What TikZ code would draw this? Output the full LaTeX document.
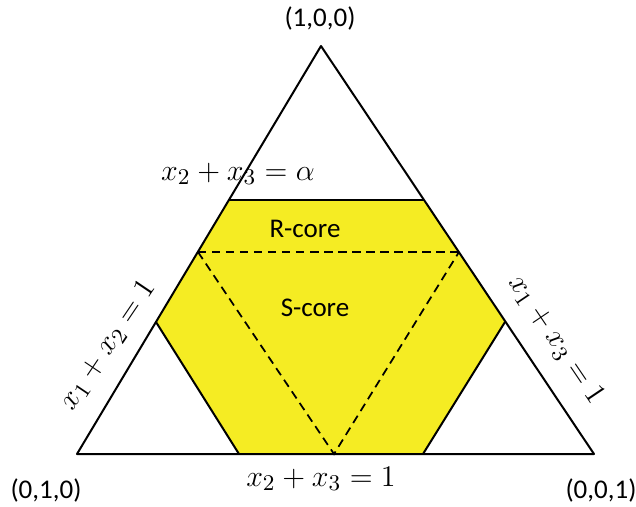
\documentclass[tikz,border=0pt]{standalone}
\usepackage{fontspec}
\setmainfont{Carlito}
\usepackage{amsmath}
\usepackage{xcolor}
\definecolor{corecolor}{RGB}{245,236,35}

\begin{document}
\begin{tikzpicture}[
    x=0.4pt, y=-0.4pt,
    edge/.style={line width=0.8pt, line join=round},
    split/.style={dashed, dash pattern=on 3.4pt off 2.2pt, line width=0.7pt},
    vertex/.style={font=\fontsize{10.8}{13}\selectfont, inner sep=0pt},
    region/.style={font=\fontsize{10.8}{13}\selectfont, inner sep=0pt},
    plane/.style={font=\fontsize{12.5}{15}\selectfont, inner sep=0pt}
]
\useasboundingbox (0,0) rectangle (636,507);

% corners of the simplex
\coordinate (top) at (321,46);
\coordinate (left) at (77,454);
\coordinate (right) at (594,454);

% corners of the core
\coordinate (rl) at (229,200);
\coordinate (rr) at (424,200);
\coordinate (sl) at (198,252);
\coordinate (sr) at (459,252);
\coordinate (hl) at (156,322);
\coordinate (hr) at (505,322);
\coordinate (bl) at (239,454);
\coordinate (br) at (423,454);
\coordinate (bm) at (334,454);

\fill[corecolor] (rl) -- (rr) -- (hr) -- (br) -- (bl) -- (hl) -- cycle;

\draw[edge] (rl) -- (rr);
\draw[edge] (hl) -- (bl);
\draw[edge] (hr) -- (br);
\draw[split] (sl) -- (sr);
\draw[split] (sl) -- (bm) -- (sr);
\draw[edge] (top) -- (left) -- (right) -- cycle;

\node[vertex] (e1) at (320,18) {(1,0,0)};
\node[vertex] (e2) at (46,490) {(0,1,0)};
\node[vertex] (e3) at (601,490) {(0,0,1)};

\node[region] (rcore) at (305,229) {R-core};
\node[region] (score) at (315,308) {S-core};

\node[plane] (alpha) at (238,174) {$x_2+x_3=\alpha$};
\node[plane] (base) at (321,479) {$x_2+x_3=1$};
\node[plane, rotate=56] (lside) at (108,345) {$x_1+x_2=1$};
\node[plane, rotate=-56] (rside) at (556,340) {$x_1+x_3=1$};

\end{tikzpicture}
\end{document}
